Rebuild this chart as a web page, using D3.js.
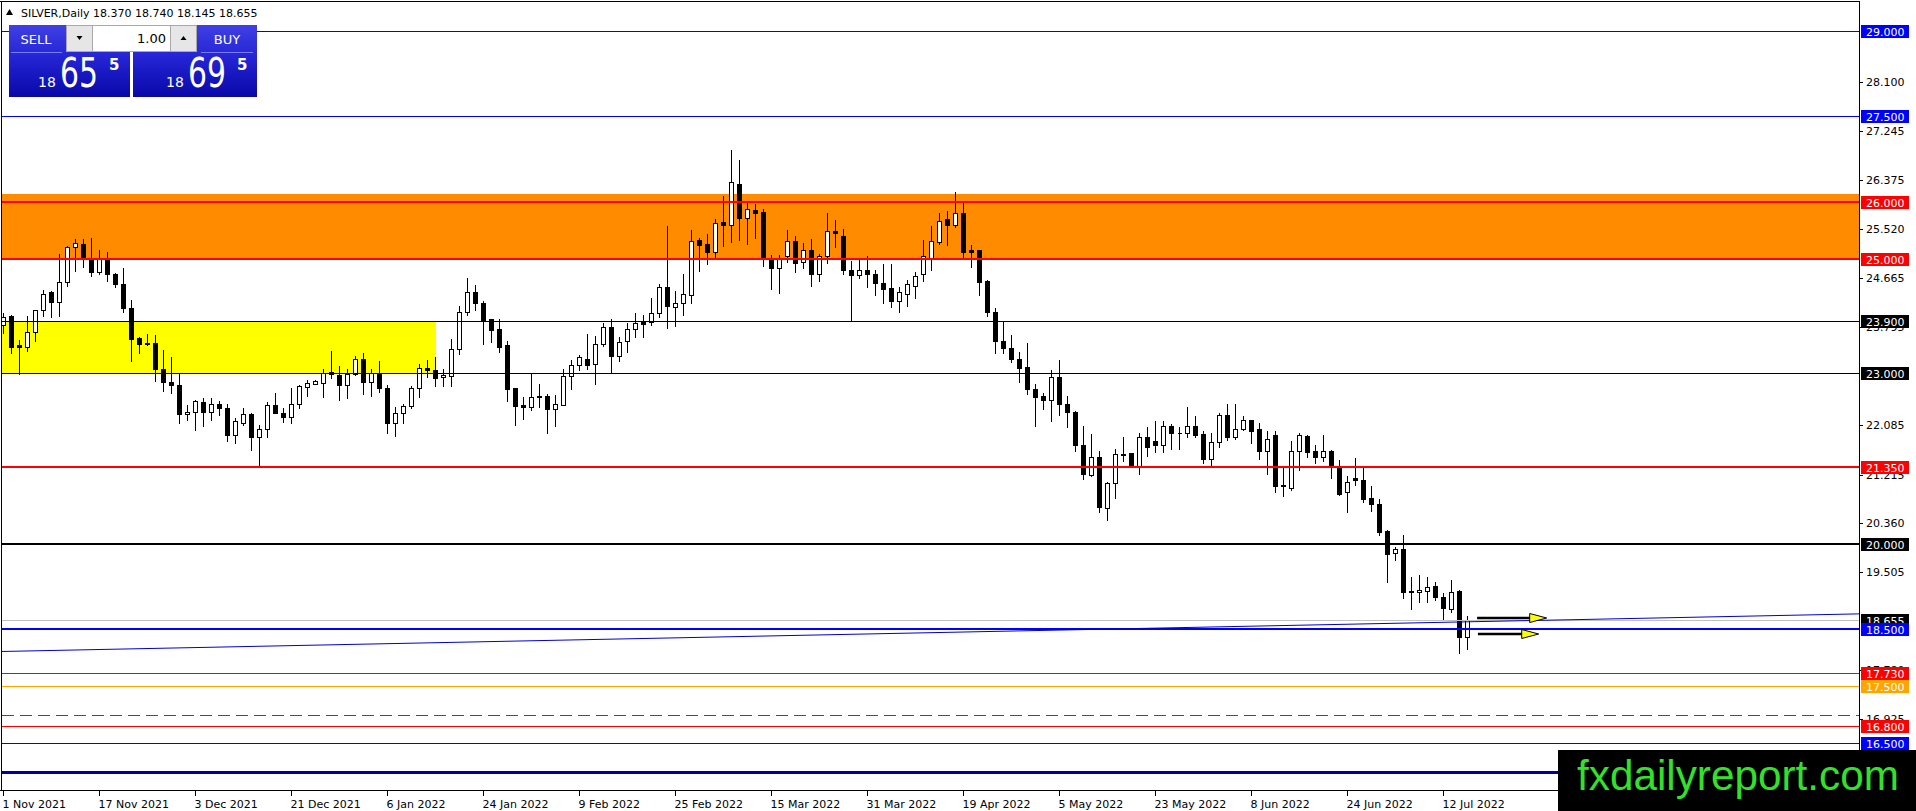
<!DOCTYPE html>
<html>
<head>
<meta charset="utf-8">
<script src="https://cdn.jsdelivr.net/npm/d3@7"></script>
<style>
html, body { margin: 0; padding: 0; background: #fff; overflow: hidden; }
svg { display: block; }
text { font-family: "DejaVu Sans", sans-serif; }
</style>
</head>
<body>
<div id="chart"></div>
<script>
// SILVER daily candles, 1 Nov 2021 .. 15 Jul 2022
var open = [
  23.84, 24.00, 23.49, 23.46, 23.72, 24.10, 24.42, 24.25, 24.59, 25.20,
  25.26, 25.01, 24.77, 25.02, 24.74, 24.55, 24.13, 23.61, 23.53, 23.53,
  23.06, 22.84, 22.78, 22.27, 22.32, 22.48, 22.32, 22.45, 22.38, 21.91,
  22.11, 22.28, 21.88, 22.02, 22.43, 22.30, 22.22, 22.45, 22.75, 22.80,
  22.82, 23.01, 22.96, 22.78, 22.98, 23.25, 22.83, 23.00, 22.74, 22.12,
  22.30, 22.41, 22.73, 23.09, 23.04, 22.92, 22.95, 23.41, 24.07, 24.41,
  24.23, 23.94, 23.76, 23.49, 22.73, 22.43, 22.40, 22.60, 22.60, 22.37,
  22.43, 22.95, 23.13, 23.25, 23.15, 23.51, 23.80, 23.29, 23.55, 23.77,
  23.90, 23.89, 24.04, 24.50, 24.16, 24.22, 24.37, 25.33, 25.26, 25.12,
  25.64, 25.60, 26.32, 25.72, 25.85, 25.82, 25.01, 24.83, 25.04, 25.32,
  24.95, 25.15, 24.73, 25.04, 25.48, 25.40, 24.81, 24.71, 24.80, 24.73,
  24.57, 24.49, 24.26, 24.39, 24.53, 24.73, 25.02, 25.30, 25.70, 25.60,
  25.80, 25.15, 25.15, 24.61, 24.06, 23.56, 23.44, 23.24, 23.10, 22.71,
  22.59, 22.52, 22.92, 22.46, 22.31, 21.73, 21.21, 21.52, 20.62, 21.06,
  21.58, 21.59, 21.35, 21.87, 21.80, 21.74, 22.07, 21.95, 21.95, 22.07,
  21.92, 21.49, 21.78, 22.26, 21.87, 22.02, 22.17, 22.01, 21.63, 21.90,
  21.03, 20.97, 21.63, 21.89, 21.63, 21.53, 21.63, 21.37, 20.90, 21.16,
  21.12, 20.80, 20.69, 20.22, 19.84, 19.90, 19.18, 19.15, 19.18, 19.26,
  19.06, 18.86, 19.18, 18.370
]
var high = [
  24.04, 24.02, 23.57, 24.00, 24.11, 24.46, 24.44, 25.08, 25.22, 25.34,
  25.34, 25.36, 25.15, 25.12, 24.75, 24.83, 24.28, 23.63, 23.68, 23.66,
  23.40, 23.27, 22.99, 22.43, 22.52, 22.55, 22.55, 22.51, 22.45, 22.20,
  22.38, 22.29, 22.08, 22.49, 22.65, 22.39, 22.74, 22.78, 22.88, 22.87,
  23.06, 23.38, 23.12, 23.06, 23.29, 23.35, 23.06, 23.20, 22.78, 22.40,
  22.46, 22.76, 23.16, 23.22, 23.27, 23.06, 23.59, 24.17, 24.66, 24.54,
  24.26, 23.95, 23.94, 23.56, 22.74, 22.58, 22.99, 22.81, 22.63, 22.61,
  23.06, 23.22, 23.31, 23.68, 23.64, 23.88, 23.94, 23.62, 23.87, 24.04,
  24.01, 24.32, 24.56, 25.57, 24.44, 24.73, 25.50, 25.37, 25.43, 25.69,
  26.10, 26.91, 26.73, 26.02, 25.96, 25.88, 25.07, 25.07, 25.50, 25.40,
  25.28, 25.35, 25.09, 25.81, 25.68, 25.53, 24.96, 25.02, 25.04, 24.81,
  24.91, 24.91, 24.51, 24.63, 24.77, 25.33, 25.57, 25.80, 25.83, 26.17,
  25.97, 25.24, 25.15, 24.63, 24.13, 23.90, 23.66, 23.37, 23.53, 22.81,
  22.64, 23.05, 23.23, 22.59, 22.33, 22.07, 21.92, 21.63, 21.09, 21.66,
  21.87, 21.60, 21.95, 22.04, 22.15, 22.15, 22.10, 22.04, 22.40, 22.24,
  21.97, 21.94, 22.29, 22.45, 22.46, 22.24, 22.18, 22.11, 21.97, 21.97,
  21.34, 21.80, 21.94, 21.91, 21.73, 21.91, 21.64, 21.47, 21.19, 21.50,
  21.34, 21.01, 20.78, 20.25, 19.95, 20.15, 19.41, 19.45, 19.41, 19.33,
  19.13, 19.36, 19.19, 18.740
]
var low = [
  23.69, 23.34, 22.98, 23.39, 23.56, 24.00, 23.97, 24.00, 24.52, 24.79,
  24.85, 24.70, 24.74, 24.61, 24.50, 24.07, 23.21, 23.34, 23.49, 22.86,
  22.68, 22.64, 22.12, 22.17, 21.99, 22.06, 22.18, 22.26, 21.81, 21.77,
  22.08, 21.64, 21.35, 21.87, 22.29, 22.14, 22.12, 22.39, 22.59, 22.80,
  22.58, 22.90, 22.53, 22.55, 22.96, 22.62, 22.59, 22.67, 21.95, 21.89,
  22.12, 22.39, 22.58, 22.93, 22.77, 22.77, 22.76, 23.33, 24.01, 24.10,
  23.50, 23.54, 23.37, 22.51, 22.08, 22.19, 22.35, 22.40, 21.95, 22.07,
  22.43, 22.72, 23.04, 23.07, 22.80, 23.47, 23.01, 23.21, 23.37, 23.62,
  23.63, 23.83, 23.97, 23.79, 23.82, 24.01, 24.23, 24.79, 24.91, 25.01,
  25.22, 25.29, 25.33, 25.26, 25.36, 24.87, 24.47, 24.40, 24.95, 24.77,
  24.83, 24.52, 24.61, 24.92, 25.20, 24.74, 23.91, 24.67, 24.51, 24.36,
  24.23, 24.16, 24.07, 24.17, 24.32, 24.61, 24.80, 25.26, 25.24, 25.55,
  25.02, 24.85, 24.37, 23.99, 23.35, 23.35, 23.19, 22.84, 22.63, 22.07,
  22.37, 22.16, 22.26, 22.05, 21.63, 21.13, 21.19, 20.56, 20.42, 20.80,
  21.46, 21.34, 21.22, 21.54, 21.61, 21.61, 21.67, 21.67, 21.88, 21.87,
  21.42, 21.36, 21.70, 21.82, 21.84, 21.99, 21.76, 21.49, 21.22, 20.91,
  20.84, 20.95, 21.30, 21.53, 21.42, 21.45, 21.16, 20.85, 20.56, 21.03,
  20.73, 20.58, 20.16, 19.33, 19.71, 19.04, 18.85, 18.97, 18.97, 19.01,
  18.67, 18.81, 18.09, 18.145
]
var close = [
  23.98, 23.46, 23.45, 23.72, 24.11, 24.39, 24.25, 24.59, 25.20, 25.27,
  25.01, 24.77, 25.02, 24.74, 24.55, 24.13, 23.60, 23.51, 23.51, 23.06,
  22.84, 22.78, 22.27, 22.32, 22.50, 22.32, 22.45, 22.38, 21.90, 22.16,
  22.28, 21.88, 22.02, 22.43, 22.30, 22.22, 22.46, 22.77, 22.82, 22.86,
  23.00, 22.97, 22.78, 22.98, 23.25, 22.83, 22.99, 22.74, 22.12, 22.30,
  22.42, 22.73, 23.09, 23.04, 22.90, 22.96, 23.41, 24.07, 24.41, 24.23,
  23.93, 23.75, 23.46, 22.72, 22.42, 22.40, 22.58, 22.58, 22.37, 22.46,
  22.95, 23.13, 23.27, 23.13, 23.50, 23.80, 23.29, 23.54, 23.77, 23.87,
  23.86, 24.05, 24.50, 24.17, 24.22, 24.39, 25.32, 25.24, 25.12, 25.63,
  25.60, 26.34, 25.72, 25.87, 25.80, 25.01, 24.83, 25.02, 25.32, 24.92,
  25.15, 24.73, 25.05, 25.48, 25.46, 24.81, 24.71, 24.81, 24.73, 24.57,
  24.47, 24.26, 24.41, 24.55, 24.70, 25.04, 25.31, 25.67, 25.60, 25.80,
  25.12, 25.12, 24.60, 24.07, 23.56, 23.44, 23.25, 23.09, 22.72, 22.58,
  22.52, 22.92, 22.46, 22.31, 21.74, 21.22, 21.52, 20.64, 21.06, 21.57,
  21.56, 21.35, 21.87, 21.70, 21.74, 22.07, 21.94, 21.94, 22.07, 21.90,
  21.49, 21.78, 22.26, 21.87, 22.02, 22.18, 21.98, 21.63, 21.83, 21.01,
  21.01, 21.63, 21.91, 21.61, 21.53, 21.63, 21.35, 20.88, 21.09, 21.11,
  20.79, 20.69, 20.21, 19.82, 19.90, 19.16, 19.16, 19.19, 19.25, 19.06,
  18.88, 19.15, 18.36, 18.655
]

var symbol = 'SILVER', period = 'Daily'
var askPrice = 18.695
var lotSize = '1.00'

var dateLabels = ['1 Nov 2021', '17 Nov 2021', '3 Dec 2021', '21 Dec 2021', '6 Jan 2022',
  '24 Jan 2022', '9 Feb 2022', '25 Feb 2022', '15 Mar 2022', '31 Mar 2022', '19 Apr 2022',
  '5 May 2022', '23 May 2022', '8 Jun 2022', '24 Jun 2022', '12 Jul 2022']
var barsPerLabel = 12

// scale ticks that are still (partly) visible next to the level labels
var priceTicks = [28.100, 27.245, 26.375, 25.520, 24.665, 23.795, 22.085,
  21.215, 20.360, 19.505, 17.780, 16.925]

// horizontal levels drawn on the chart
var levels = [29.0, 27.5, 26.0, 25.0, 23.9, 23.0, 21.35, 20.0, 18.5, 17.73, 17.5, 16.8, 16.5, 16.0]
var dashedLevels = [17.0]
var orangeZone = [25.0, 26.135]
var yellowZone = [23.0, 23.9]
var yellowZoneLastBar = 54
var trendPoints = [[0, 18.11], [232, 18.77]]
// [from bar, to bar, price]
var arrowMarks = [[184.2, 192.9, 18.70], [184.3, 191.9, 18.42]]

// ---------------------------------------------------------------

var W = 1916, H = 811
var axisX = 1859, axisY = 790
var last = close.length - 1
var bid = close[last]

var x = d3.scaleLinear().domain([0, 232]).range([3.5, 1859.5])
var y = d3.scaleLinear().domain([15.68, 29.54]).range([axisY, 0])
var f3 = d3.format('.3f')

function levelColor(p) {
  if (p === 26 || p === 25 || p === 21.35 || p === 17.73 || p === 16.8) return '#ff0000'
  if (p === 23.9 || p === 23 || p === 20) return '#000000'
  if (p === 17.5) return '#ffa500'
  if (p === 16) return '#00009c'
  return '#0000ff'
}
function levelWidth(p) {
  if (p === 16) return 3
  if (p === 26 || p === 25 || p === 21.35 || p === 20 || p === 18.5) return 2
  return 1
}
function crisp(v, w) { return w % 2 ? Math.round(v) + 0.5 : Math.round(v) }

var svg = d3.select('#chart').append('svg').attr('width', W).attr('height', H)
svg.append('rect').attr('width', W).attr('height', H).attr('fill', '#fff')

var plot = svg.append('g').attr('shape-rendering', 'crispEdges')

// zones
plot.append('rect')
  .attr('x', 2).attr('width', axisX - 2)
  .attr('y', Math.round(y(orangeZone[1]))).attr('height', Math.round(y(orangeZone[0])) - Math.round(y(orangeZone[1])))
  .attr('fill', '#ff8c00')
plot.append('rect')
  .attr('x', 2).attr('width', Math.round(x(yellowZoneLastBar)) - 2)
  .attr('y', Math.round(y(yellowZone[1]))).attr('height', Math.round(y(yellowZone[0])) - Math.round(y(yellowZone[1])))
  .attr('fill', '#ffff00')

// candles
var bars = d3.range(open.length)
plot.selectAll('line.wick').data(bars).enter().append('line')
  .attr('class', 'wick')
  .attr('x1', function (i) { return x(i) }).attr('x2', function (i) { return x(i) })
  .attr('y1', function (i) { return Math.round(y(high[i])) }).attr('y2', function (i) { return Math.round(y(low[i])) + 1 })
  .attr('stroke', '#000').attr('stroke-width', 1)
plot.selectAll('path.body').data(bars).enter().append('path')
  .attr('class', 'body')
  .attr('d', function (i) {
    var t = crisp(y(Math.max(open[i], close[i])), 1), b = crisp(y(Math.min(open[i], close[i])), 1)
    var l = x(i) - 2, r = x(i) + 2
    return 'M' + l + ',' + t + 'H' + r + 'V' + b + 'H' + l + 'Z'
  })
  .attr('fill', function (i) { return close[i] > open[i] ? '#fff' : '#000' })
  .attr('stroke', '#000').attr('stroke-width', 1)

// level lines
plot.append('line')
  .attr('x1', 2).attr('x2', axisX)
  .attr('y1', crisp(y(bid), 1)).attr('y2', crisp(y(bid), 1))
  .attr('stroke', '#c0c0c0')
plot.selectAll('line.level').data(levels).enter().append('line')
  .attr('class', 'level')
  .attr('x1', 2).attr('x2', axisX)
  .attr('y1', function (p) { return crisp(y(p), levelWidth(p)) })
  .attr('y2', function (p) { return crisp(y(p), levelWidth(p)) })
  .attr('stroke', levelColor).attr('stroke-width', levelWidth)
plot.selectAll('line.dash').data(dashedLevels).enter().append('line')
  .attr('x1', 2).attr('x2', axisX)
  .attr('y1', function (p) { return crisp(y(p), 1) }).attr('y2', function (p) { return crisp(y(p), 1) })
  .attr('stroke', '#e01010').attr('stroke-dasharray', '12,6')

// trend line
svg.append('line')
  .attr('x1', x(trendPoints[0][0]) - 2).attr('y1', y(trendPoints[0][1]))
  .attr('x2', x(trendPoints[1][0])).attr('y2', y(trendPoints[1][1]))
  .attr('stroke', '#0000cd').attr('stroke-width', 1)

// arrows
arrowMarks.forEach(function (a) {
  var x0 = x(a[0]), x1 = x(a[1]), yy = Math.round(y(a[2]))
  svg.append('line').attr('x1', x0).attr('x2', x1 - 14).attr('y1', yy).attr('y2', yy)
    .attr('stroke', '#000').attr('stroke-width', 2.5)
  svg.append('path')
    .attr('d', 'M' + (x1 - 17) + ',' + (yy - 4.5) + 'L' + x1 + ',' + yy + 'L' + (x1 - 17) + ',' + (yy + 4.5) + 'Z')
    .attr('fill', '#ffff00').attr('stroke', '#000').attr('stroke-width', 1)
})

// frame
var frame = svg.append('g').attr('shape-rendering', 'crispEdges').attr('stroke', '#000')
frame.append('line').attr('x1', 0).attr('x2', axisX).attr('y1', 1.5).attr('y2', 1.5)
frame.append('line').attr('x1', 1.5).attr('x2', 1.5).attr('y1', 1).attr('y2', axisY)
frame.append('line').attr('x1', axisX + 0.5).attr('x2', axisX + 0.5).attr('y1', 1).attr('y2', axisY + 1)
frame.append('line').attr('x1', 0).attr('x2', axisX + 1).attr('y1', axisY + 0.5).attr('y2', axisY + 0.5)

// price axis ticks
var pt = svg.append('g')
pt.selectAll('line').data(priceTicks).enter().append('line')
  .attr('shape-rendering', 'crispEdges')
  .attr('x1', axisX).attr('x2', axisX + 4)
  .attr('y1', function (p) { return crisp(y(p), 1) }).attr('y2', function (p) { return crisp(y(p), 1) })
  .attr('stroke', '#000')
pt.selectAll('text').data(priceTicks).enter().append('text')
  .attr('x', axisX + 7).attr('y', function (p) { return y(p) + 4 })
  .attr('font-size', 11).attr('fill', '#000')
  .text(f3)

// level labels on the price axis
function priceLabel(p, color) {
  var yy = Math.round(y(p))
  svg.append('rect').attr('x', axisX + 2).attr('y', yy - 6).attr('width', 48).attr('height', 13)
    .attr('fill', color).attr('shape-rendering', 'crispEdges')
  svg.append('text').attr('x', axisX + 7).attr('y', yy + 4.5)
    .attr('font-size', 11).attr('fill', '#fff').text(f3(p))
}
priceLabel(bid, '#000')
// the 16.000 label sits under the watermark box, so only its line is drawn
levels.filter(function (p) { return p > 16 }).forEach(function (p) { priceLabel(p, levelColor(p)) })

// date axis
var dateIdx = dateLabels.map(function (d, k) { return k * barsPerLabel })
var dg = svg.append('g')
dg.selectAll('line').data(dateIdx).enter().append('line')
  .attr('shape-rendering', 'crispEdges')
  .attr('x1', function (i) { return x(i) }).attr('x2', function (i) { return x(i) })
  .attr('y1', axisY).attr('y2', axisY + 6)
  .attr('stroke', '#000')
dg.selectAll('text').data(dateIdx).enter().append('text')
  .attr('x', function (i) { return x(i) - 1 }).attr('y', axisY + 18)
  .attr('font-size', 11).attr('fill', '#000')
  .text(function (i, k) { return dateLabels[k] })

// header
svg.append('path').attr('d', 'M6,15 L13,15 L9.5,9 Z').attr('fill', '#000')
svg.append('text').attr('x', 21).attr('y', 17).attr('font-size', 11).attr('fill', '#000')
  .text(symbol + ',' + period + '  ' + [open[last], high[last], low[last], close[last]].map(f3).join(' '))

// one click trading panel
var defs = svg.append('defs')
var grad = defs.append('linearGradient').attr('id', 'pg').attr('x1', 0).attr('y1', 0).attr('x2', 0).attr('y2', 1)
grad.append('stop').attr('offset', '0%').attr('stop-color', '#4040e4')
grad.append('stop').attr('offset', '45%').attr('stop-color', '#2424d4')
grad.append('stop').attr('offset', '100%').attr('stop-color', '#0808a8')

var panel = svg.append('g')
panel.append('rect').attr('x', 9).attr('y', 25).attr('width', 121).attr('height', 72).attr('fill', 'url(#pg)')
panel.append('rect').attr('x', 133).attr('y', 25).attr('width', 124).attr('height', 72).attr('fill', 'url(#pg)')
panel.append('line').attr('x1', 11).attr('x2', 62).attr('y1', 52.5).attr('y2', 52.5).attr('stroke', '#7a7aff')
panel.append('line').attr('x1', 201).attr('x2', 253).attr('y1', 52.5).attr('y2', 52.5).attr('stroke', '#7a7aff')
panel.append('text').attr('x', 36).attr('y', 44).attr('text-anchor', 'middle')
  .attr('font-size', 13).attr('fill', '#fff').text('SELL')
panel.append('text').attr('x', 227).attr('y', 44).attr('text-anchor', 'middle')
  .attr('font-size', 13).attr('fill', '#fff').text('BUY')

var spin = panel.append('g').attr('shape-rendering', 'crispEdges')
spin.append('rect').attr('x', 66.5).attr('y', 25.5).attr('width', 130).attr('height', 26)
  .attr('fill', '#fff').attr('stroke', '#a8a8a8')
spin.append('rect').attr('x', 66.5).attr('y', 25.5).attr('width', 26).attr('height', 26)
  .attr('fill', '#e6e6e6').attr('stroke', '#a8a8a8')
spin.append('rect').attr('x', 170.5).attr('y', 25.5).attr('width', 26).attr('height', 26)
  .attr('fill', '#e6e6e6').attr('stroke', '#a8a8a8')
panel.append('path').attr('d', 'M76.5,36 L82.5,36 L79.5,40 Z').attr('fill', '#000')
panel.append('path').attr('d', 'M180.5,40 L186.5,40 L183.5,36 Z').attr('fill', '#000')
panel.append('text').attr('x', 166).attr('y', 43).attr('text-anchor', 'end')
  .attr('font-size', 13).attr('fill', '#000').text(lotSize)

function quote(p, x0) {
  var s = p.toFixed(3), big = s.slice(0, 2), mid = s.slice(3, 5), pip = s.slice(5)
  var g = panel.append('g').attr('fill', '#fff').style('font-family', '"Liberation Sans", Arial, sans-serif')
  g.append('text').attr('x', x0).attr('y', 87).attr('font-size', 14).text(big)
  g.append('text').attr('x', x0 + 22).attr('y', 87).attr('font-size', 40)
    .attr('textLength', 38).attr('lengthAdjust', 'spacingAndGlyphs').text(mid)
  g.append('text').attr('x', x0 + 71).attr('y', 70).attr('font-size', 15).attr('font-weight', 'bold').text(pip)
}
quote(bid, 38)
quote(askPrice, 166)

// watermark
svg.append('rect').attr('x', 1558).attr('y', 750).attr('width', W - 1558).attr('height', H - 750).attr('fill', '#000')
svg.append('text').attr('x', 1577).attr('y', 790)
  .attr('font-size', 42).attr('fill', '#33e02a')
  .attr('textLength', 322).attr('lengthAdjust', 'spacingAndGlyphs')
  .style('font-family', '"Liberation Sans", Arial, sans-serif')
  .text('fxdailyreport.com')
</script>
</body>
</html>
